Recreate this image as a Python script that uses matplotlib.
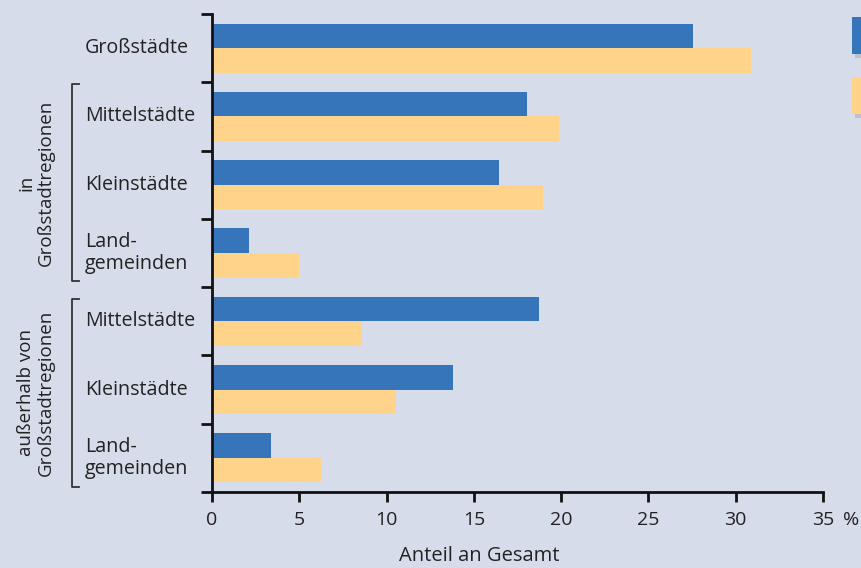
import matplotlib
matplotlib.use("Agg")
import matplotlib.pyplot as plt
from matplotlib.patches import Rectangle
from matplotlib.lines import Line2D
from matplotlib.transforms import blended_transform_factory
import matplotlib.patheffects as pe

plt.rcParams['font.family'] = ['Open Sans', 'DejaVu Sans']

categories = ["Großstädte", "Mittelstädte", "Kleinstädte", "Land-\ngemeinden",
              "Mittelstädte", "Kleinstädte", "Land-\ngemeinden"]
series_blue = [27.55, 18.05, 16.45, 2.1, 18.75, 13.8, 3.4]
series_orange = [30.85, 19.85, 18.95, 5.0, 8.6, 10.55, 6.25]
xticks = [0, 5, 10, 15, 20, 25, 30, 35]
groups = ["in\nGroßstadtregionen", "außerhalb von\nGroßstadtregionen"]

BG = "#D6DCE9"
BLUE = "#3775BA"
ORANGE = "#FFD38A"
TXT = "#222222"

W, H = 862, 568
fig = plt.figure(figsize=(8.62, 5.68), dpi=100, facecolor=BG)
ax = fig.add_axes([212 / W, 1 - 492 / H, (823 - 212) / W, (492 - 14) / H])
ax.set_facecolor(BG)

n = len(categories)
ys = list(range(n))
bh = 0.36
ax.barh([y - bh / 2 for y in ys], series_blue, height=bh, color=BLUE, edgecolor="none")
ax.barh([y + bh / 2 for y in ys], series_orange, height=bh, color=ORANGE, edgecolor="none")

ax.set_ylim(n - 0.5, -0.5)
ax.set_xlim(0, 35)
ax.set_yticks([i - 0.5 for i in range(n + 1)])
ax.set_yticklabels([])
ax.set_xticks(xticks)
ax.set_xticklabels([str(t) for t in xticks], fontsize=14, color=TXT)
ax.tick_params(axis="y", length=8, width=2, color="#111111")
ax.tick_params(axis="x", length=7, width=2, color="#111111", pad=7)
for s in ["top", "right"]:
    ax.spines[s].set_visible(False)
for s in ["left", "bottom"]:
    ax.spines[s].set_linewidth(2)
    ax.spines[s].set_color("#111111")

# category labels
tr = blended_transform_factory(fig.transFigure, ax.transData)
for i, c in enumerate(categories):
    ax.text(85 / W, i, c, transform=tr, ha="left", va="center",
            fontsize=14.2, color=TXT, linespacing=1.15)

# % sign
fig.text(843 / W, 1 - 520 / H, "%", ha="left", va="center", fontsize=14, color=TXT)
# x label
fig.text(479 / W, 1 - 556 / H, "Anteil an Gesamt", ha="center", va="center", fontsize=14.5, color=TXT)

# group brackets and labels
brackets = [(84, 281), (299, 487)]
for (y0, y1), g in zip(brackets, groups):
    xs = [79 / W, 72 / W, 72 / W, 79 / W]
    yy = [1 - y0 / H, 1 - y0 / H, 1 - y1 / H, 1 - y1 / H]
    fig.add_artist(Line2D(xs, yy, transform=fig.transFigure, color="#333333", lw=1.3))
    fig.text(36 / W, 1 - (y0 + y1) / 2 / H, g, rotation=90, ha="center", va="center",
             fontsize=13.5, color=TXT, linespacing=1.1, multialignment="center")

# legend swatches (labels cut off at right edge)
for (y0, y1), col in [((17, 54), BLUE), ((77, 114), ORANGE)]:
    r = Rectangle((852 / W, 1 - y1 / H), 20 / W, (y1 - y0) / H, transform=fig.transFigure,
                  facecolor=col, edgecolor="none",
                  path_effects=[pe.SimplePatchShadow(offset=(2, -3), shadow_rgbFace="#999999", alpha=0.4), pe.Normal()])
    fig.add_artist(r)

fig.savefig("out.png", dpi=100, facecolor=BG)
